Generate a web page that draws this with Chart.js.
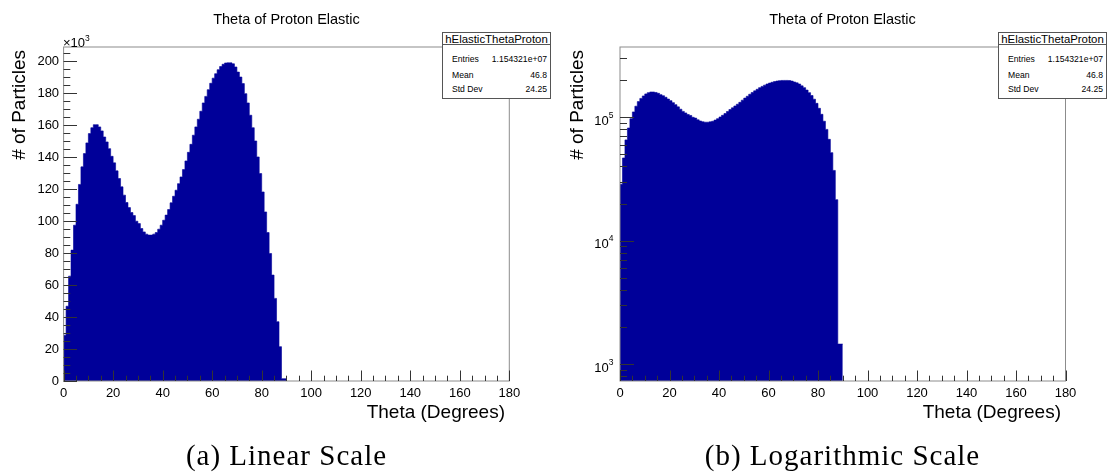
<!DOCTYPE html>
<html><head><meta charset="utf-8">
<script src="https://cdn.jsdelivr.net/npm/chart.js@4.4.0/dist/chart.umd.min.js"></script>
<style>
html,body{margin:0;padding:0;background:#fff;}
body{width:1111px;height:474px;position:relative;overflow:hidden;font-family:"Liberation Sans",Arial,sans-serif;color:#000;}
canvas{position:absolute;top:0;}
.t{position:absolute;white-space:nowrap;line-height:1;}
.title{font-size:14.5px;transform:translateX(-50%);top:11.75px;}
.ytitle{font-size:19px;width:200px;text-align:right;transform-origin:0 0;transform:rotate(-90deg);top:250px;}
.xtitle{font-size:19px;width:300px;text-align:right;top:401.5px;}
.cap{font-family:"Liberation Serif","Times New Roman",serif;font-size:29px;letter-spacing:1px;transform:translateX(-50%);top:441px;}
.exp{position:absolute;left:63px;font-size:13px;line-height:1;top:35px;white-space:nowrap;}
.exp sup{font-size:8.5px;position:relative;top:-1px;}
.stats{position:absolute;top:32px;width:109px;height:67px;box-sizing:border-box;border:1px solid #555;background:#fff;}
.stats .hd{position:absolute;left:0;right:0;top:0.5px;height:11px;font-size:11.4px;text-align:center;line-height:1;}
.stats .sep{position:absolute;left:0;right:0;top:11px;border-top:1px solid #555;}
.stats .lb{position:absolute;left:9px;font-size:8.6px;line-height:1;}
.stats .vl{position:absolute;right:3px;font-size:8.6px;line-height:1;text-align:right;}
</style></head><body>
<canvas id="linChart" width="556" height="474" style="left:0"></canvas>
<canvas id="logChart" width="555" height="474" style="left:556px"></canvas>

<div class="t title" style="left:286.5px">Theta of Proton Elastic</div>
<div class="t title" style="left:842.5px">Theta of Proton Elastic</div>
<div class="exp">&#215;10<sup>3</sup></div>
<div class="t ytitle" style="left:8.8px"># of Particles</div>
<div class="t ytitle" style="left:566.5px"># of Particles</div>
<div class="t xtitle" style="left:205px">Theta (Degrees)</div>
<div class="t xtitle" style="left:761px">Theta (Degrees)</div>
<div class="t cap" style="left:286.5px">(a) Linear Scale</div>
<div class="t cap" style="left:842.5px">(b) Logarithmic Scale</div>

<div class="stats" style="left:442px">
  <div class="hd">hElasticThetaProton</div><div class="sep"></div>
  <div class="lb" style="top:21.7px">Entries</div><div class="vl" style="top:21.7px">1.154321e+07</div>
  <div class="lb" style="top:37.7px">Mean</div><div class="vl" style="top:37.7px">46.8</div>
  <div class="lb" style="top:52px">Std Dev</div><div class="vl" style="top:52px">24.25</div>
</div>
<div class="stats" style="left:998px">
  <div class="hd">hElasticThetaProton</div><div class="sep"></div>
  <div class="lb" style="top:21.7px">Entries</div><div class="vl" style="top:21.7px">1.154321e+07</div>
  <div class="lb" style="top:37.7px">Mean</div><div class="vl" style="top:37.7px">46.8</div>
  <div class="lb" style="top:52px">Std Dev</div><div class="vl" style="top:52px">24.25</div>
</div>

<script>
// ---- data (counts per 1-degree bin, theta 0..90) ----
const binWidthDeg = 1;
const protonCounts = [
  10000, 28700, 46800, 65600, 81900, 97500, 110600, 123000, 134000, 142300,
  149000, 154800, 158500, 160400, 160400, 159000, 156500, 152700, 149600, 145400,
  140600, 136500, 131500, 126700, 121500, 116300, 111700, 108500, 105400, 103500,
  100000, 98500, 95400, 93300, 91900, 91300, 91300, 91900, 92900, 95000,
  97500, 100600, 103800, 107300, 111500, 115600, 119400, 123500, 127700, 132300,
  137700, 143100, 148100, 153800, 159000, 163800, 168800, 174000, 178100, 182300,
  186300, 189500, 192300, 194800, 196800, 198200, 199000, 199100, 199100, 198500,
  196500, 193300, 190200, 186100, 179800, 174000, 166300, 158500, 150200, 140200,
  129800, 118300, 105800, 92900, 79800, 66300, 51700, 37100, 21500, 1450
];
const binLowEdges = protonCounts.map((_, i) => i * binWidthDeg);
const xTickLabels = [0, 20, 40, 60, 80, 100, 120, 140, 160, 180];
const yLinTickLabels = [0, 20, 40, 60, 80, 100, 120, 140, 160, 180, 200]; // x10^3
const yLogTickExponents = [3, 4, 5];

const FONT = '"Liberation Sans", Arial, sans-serif';

// histogram outline as a stepped series: each bin's low edge, then the last bin's upper edge
function histPoints() {
  const pts = binLowEdges.map((x, i) => ({x, y: protonCounts[i]}));
  const last = protonCounts.length - 1;
  pts.push({x: binLowEdges[last] + binWidthDeg, y: protonCounts[last]});
  return pts;
}

function rootAxesPlugin(isLog) {
  return {
    id: 'rootAxes',
    afterDatasetsDraw(chart) {
      const {ctx, chartArea: a, scales: {x, y}} = chart;
      ctx.save();
      ctx.strokeStyle = '#8c8c8c';
      ctx.lineWidth = 1;
      ctx.strokeRect(a.left, a.top, a.right - a.left, a.bottom - a.top);
      ctx.strokeStyle = '#333';
      ctx.beginPath();
      for (let v = 0; v <= 180; v += 5) {
        const px = Math.round(x.getPixelForValue(v)) + 0.5;
        const len = (v % 20 === 0) ? 10.5 : 5.3;
        ctx.moveTo(px, a.bottom); ctx.lineTo(px, a.bottom - len);
      }
      if (!isLog) {
        for (let v = 0; v <= y.max; v += 5000) {
          const py = Math.round(y.getPixelForValue(v)) + 0.5;
          const len = (v % 20000 === 0) ? 13.4 : 6.7;
          ctx.moveTo(a.left, py); ctx.lineTo(a.left + len, py);
        }
      } else {
        for (let e = 2; e <= 5; e++) {
          for (let m = 1; m <= 9; m++) {
            const v = m * Math.pow(10, e);
            if (v < y.min || v > y.max) continue;
            const py = Math.round(y.getPixelForValue(v)) + 0.5;
            const len = (m === 1) ? 14 : 7;
            ctx.moveTo(a.left, py); ctx.lineTo(a.left + len, py);
          }
        }
      }
      ctx.stroke();
      ctx.fillStyle = '#000';
      ctx.font = '13px ' + FONT;
      ctx.textAlign = 'center';
      ctx.textBaseline = 'middle';
      xTickLabels.forEach(v => {
        ctx.fillText(String(v), x.getPixelForValue(v), a.bottom + 12);
      });
      if (!isLog) {
        ctx.textAlign = 'right';
        yLinTickLabels.forEach(v => {
          ctx.fillText(String(v), a.left - 4.5, y.getPixelForValue(v * 1000));
        });
      } else {
        yLogTickExponents.forEach(e => {
          const py = y.getPixelForValue(Math.pow(10, e));
          ctx.textAlign = 'right';
          ctx.font = '8.5px ' + FONT;
          const ew = ctx.measureText(String(e)).width;
          ctx.fillText(String(e), a.left - 6.5, py - 1.5);
          ctx.font = '13px ' + FONT;
          ctx.fillText('10', a.left - 6.5 - ew, py + 4);
        });
      }
      ctx.restore();
    }
  };
}

function makeChart(id, isLog, padLeft, padRight) {
  return new Chart(document.getElementById(id), {
    type: 'line',
    data: {
      datasets: [{
        label: 'hElasticThetaProton',
        data: histPoints(),
        stepped: 'after',
        fill: isLog ? 'start' : 'origin',
        backgroundColor: '#000099',
        borderColor: '#000099',
        borderWidth: 0.6,
        pointRadius: 0,
        tension: 0
      }]
    },
    options: {
      responsive: false,
      animation: false,
      devicePixelRatio: 1,
      layout: {padding: {left: padLeft, right: padRight, top: 47, bottom: 93}},
      plugins: {legend: {display: false}, tooltip: {enabled: false}, title: {display: false}},
      scales: {
        x: {type: 'linear', min: 0, max: 180, display: false},
        y: isLog
          ? {type: 'logarithmic', min: 728, max: 371500, display: false}
          : {type: 'linear', min: 0, max: 209000, display: false}
      }
    },
    plugins: [rootAxesPlugin(isLog)]
  });
}

makeChart('linChart', false, 63.6, 556 - 509.3);
makeChart('logChart', true, 64, 555 - 509.5);
</script>
</body></html>
